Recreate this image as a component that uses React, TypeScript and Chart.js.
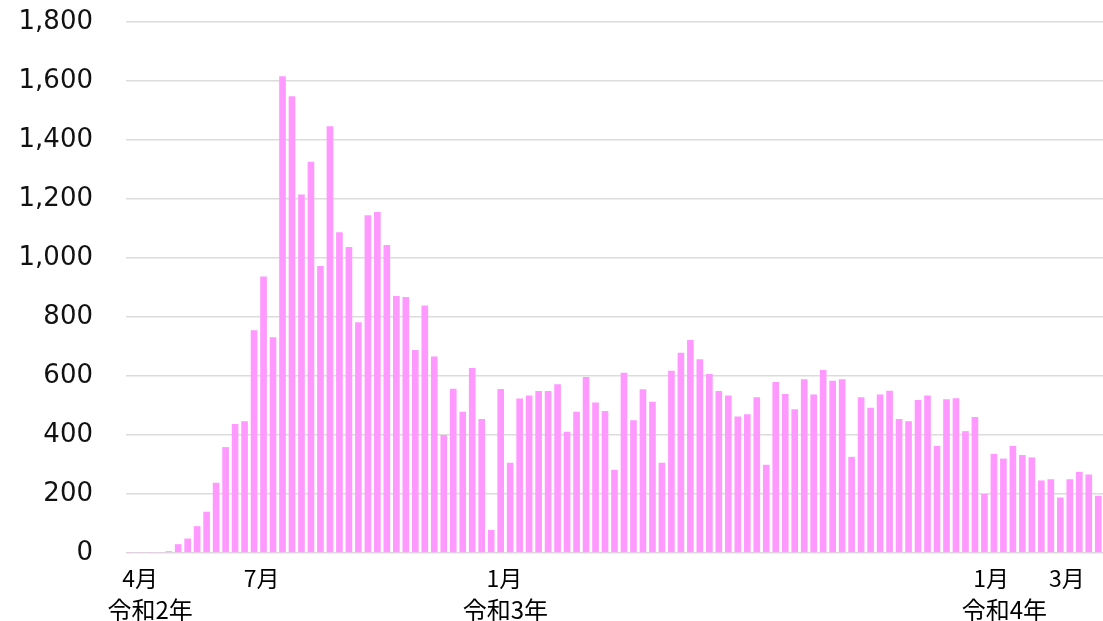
import { useEffect, useRef } from "react";
import { Chart, registerables } from "chart.js";

Chart.register(...registerables);

// Weekly categories (103 weeks, from the end of March 2020 to March 2022)
const weeks: string[] = Array.from({ length: 103 }, (_, i) => `第${i + 1}週`);

// Weekly counts
const cases: number[] = [
  2, 2, 2, 2, 6, 30, 49, 91, 140, 238,
  359, 437, 447, 755, 937, 731, 1616, 1548, 1215, 1326,
  973, 1447, 1087, 1037, 782, 1145, 1156, 1044, 871, 868,
  688, 839, 666, 400, 557, 479, 627, 454, 78, 556,
  306, 524, 534, 549, 549, 572, 411, 479, 597, 510,
  481, 282, 611, 450, 555, 513, 306, 618, 679, 722,
  657, 607, 549, 534, 463, 470, 528, 299, 580, 539,
  487, 589, 537, 620, 584, 589, 326, 528, 492, 537,
  550, 454, 447, 519, 534, 363, 521, 525, 413, 461,
  200, 336, 320, 363, 332, 324, 246, 250, 188, 250,
  275, 266, 194,
];

// Y axis range
const yMin = 0;
const yMax = 1800;
const yStep = 200;

// Month / era labels along the category axis (positions are week indexes)
const monthLabels: string[] = ["4月", "7月", "1月", "1月", "3月"];
const monthAt: number[] = [1, 13.8, 39.4, 90.7, 98.7];
const yearLabels: string[] = ["令和2年", "令和3年", "令和4年"];
const yearAt: number[] = [2.05, 39.5, 92.1];

const axisLabelsPlugin = {
  id: "axisLabels",
  afterDraw(chart: any) {
    const { ctx, chartArea } = chart;
    const x = chart.scales.x;
    ctx.save();
    ctx.fillStyle = "#000";
    ctx.textAlign = "center";
    ctx.textBaseline = "middle";
    ctx.font = '23px "Noto Sans CJK JP"';
    monthLabels.forEach((t, i) => {
      ctx.fillText(t, x.getPixelForValue(monthAt[i]), chartArea.bottom + 25);
    });
    ctx.font = '24px "Noto Sans CJK JP"';
    yearLabels.forEach((t, i) => {
      ctx.fillText(t, x.getPixelForValue(yearAt[i]), chartArea.bottom + 57);
    });
    ctx.restore();
  },
};

export default function App() {
  const ref = useRef<HTMLCanvasElement | null>(null);

  useEffect(() => {
    if (!ref.current) return;
    const chart = new Chart(ref.current, {
      type: "bar",
      data: {
        labels: weeks,
        datasets: [
          {
            data: cases,
            backgroundColor: "#ff99ff",
            borderWidth: 0,
            categoryPercentage: 1,
            barPercentage: 0.7,
          },
        ],
      },
      options: {
        responsive: false,
        animation: false,
        layout: { padding: { top: 22, right: 0, bottom: 68, left: 0 } },
        plugins: {
          legend: { display: false },
          tooltip: { enabled: false },
        },
        scales: {
          x: {
            display: false,
          },
          y: {
            min: yMin,
            max: yMax,
            ticks: {
              stepSize: yStep,
              padding: 33,
              color: "#111",
              font: { family: "'DejaVu Sans', Verdana, sans-serif", size: 26 },
              callback: (v: any) => Number(v).toLocaleString("en-US"),
            },
            grid: { color: "#dcdcdc", lineWidth: 1.6, drawTicks: false },
            border: { display: false },
            afterFit: (s: any) => {
              s.width = 126;
              s.paddingTop = 0;
              s.paddingBottom = 0;
            },
          },
        },
      },
      plugins: [axisLabelsPlugin],
    });
    return () => chart.destroy();
  }, []);

  return (
    <div style={{ position: "fixed", left: 0, top: 0, width: 1103, height: 621, background: "#fff" }}>
      <canvas ref={ref} width={1103} height={621} style={{ display: "block" }} />
    </div>
  );
}
